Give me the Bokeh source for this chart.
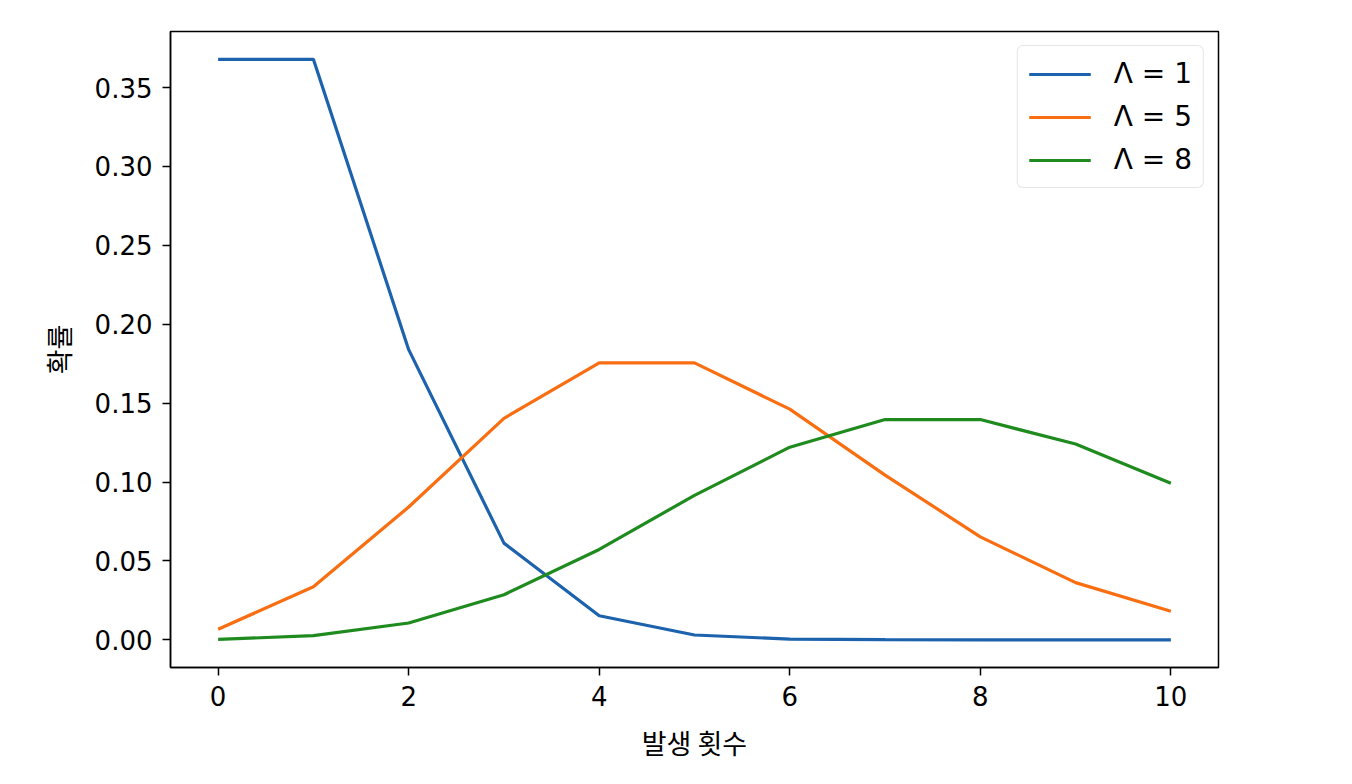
from bokeh.plotting import figure
from bokeh.models import Range1d, FixedTicker, Legend, LegendItem, NumeralTickFormatter
from bokeh.embed import file_html
from bokeh.resources import INLINE

# Data
k = [0, 1, 2, 3, 4, 5, 6, 7, 8, 9, 10]
lam1 = [0.3679, 0.3679, 0.1839, 0.0613, 0.0153, 0.0031, 0.0005, 0.0001, 0.0000, 0.0000, 0.0000]
lam5 = [0.0067, 0.0337, 0.0842, 0.1404, 0.1755, 0.1755, 0.1462, 0.1044, 0.0653, 0.0363, 0.0181]
lam8 = [0.0003, 0.0027, 0.0107, 0.0286, 0.0573, 0.0916, 0.1221, 0.1396, 0.1396, 0.1241, 0.0993]
series_labels = ["Λ = 1", "Λ = 5", "Λ = 8"]
colors = ["#1c62ad", "#fa6e12", "#1f8b1f"]
x_ticks = [0, 2, 4, 6, 8, 10]
y_ticks = [0.0, 0.05, 0.10, 0.15, 0.20, 0.25, 0.30, 0.35]

FONT = "DejaVu Sans"
KFONT = "Noto Sans CJK KR"
FS = "26px"

p = figure(width=1336, height=768, output_backend="svg", toolbar_location=None,
           x_range=Range1d(-0.5, 10.5), y_range=Range1d(-0.0175, 0.3855),
           min_border_left=170, min_border_right=118, min_border_top=31, min_border_bottom=101)

p.grid.visible = False
p.outline_line_color = "black"
p.outline_line_width = 1.5
p.background_fill_color = "white"
p.border_fill_color = "white"

renderers = []
for ys, c in zip([lam1, lam5, lam8], colors):
    r = p.line(k, ys, line_color=c, line_width=3.2)
    renderers.append(r)

for ax in (p.xaxis[0], p.yaxis[0]):
    ax.axis_line_color = "black"
    ax.axis_line_width = 1.5
    ax.major_tick_line_color = "black"
    ax.major_tick_line_width = 1.5
    ax.major_tick_out = 8
    ax.major_tick_in = 0
    ax.minor_tick_line_color = None
    ax.major_label_text_font = FONT
    ax.major_label_text_font_size = FS
    ax.major_label_text_color = "black"
    ax.axis_label_text_font = KFONT
    ax.axis_label_text_font_size = "27px"
    ax.axis_label_text_font_style = "normal"
    ax.axis_label_text_color = "black"

p.xaxis.ticker = FixedTicker(ticks=x_ticks)
p.yaxis.ticker = FixedTicker(ticks=y_ticks)
p.yaxis.formatter = NumeralTickFormatter(format="0.00")
p.xaxis.major_label_standoff = 10
p.yaxis.major_label_standoff = 10
p.xaxis.axis_label = "발생 횟수"
p.yaxis.axis_label = "확률"
p.xaxis.axis_label_standoff = 14
p.yaxis.axis_label_standoff = 14

legend = Legend(items=[LegendItem(label=l, renderers=[r]) for l, r in zip(series_labels, renderers)],
                location="top_right")
legend.label_text_font = FONT
legend.label_text_font_size = "28px"
legend.label_text_color = "black"
legend.glyph_width = 62
legend.glyph_height = 28
legend.label_height = 28
legend.spacing = 10
legend.label_standoff = 23
legend.padding = 11
legend.margin = 14
legend.border_line_color = "#cccccc"
legend.border_line_width = 1.5
legend.background_fill_alpha = 0.8
if hasattr(legend, "border_radius"):
    legend.border_radius = 6
p.add_layout(legend)

open("out.html", "w").write(file_html(p, INLINE))
